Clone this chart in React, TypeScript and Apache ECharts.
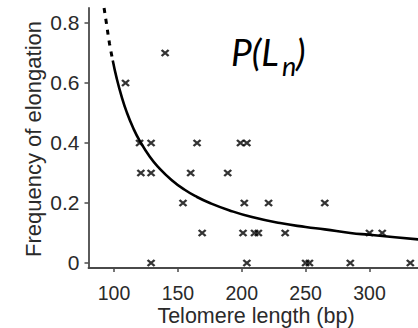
import React, { useEffect, useRef } from 'react';
import * as echarts from 'echarts';

// Observed data points (telomere length in bp, frequency of elongation)
const scatterLength = [
  109, 140,
  120, 129, 165, 199, 204,
  121, 129, 160, 189,
  154, 202, 221, 265,
  169, 201, 210, 213, 234, 300, 310,
  129, 204, 250, 253, 285, 332,
];
const scatterFreq = [
  0.6, 0.7,
  0.4, 0.4, 0.4, 0.4, 0.4,
  0.3, 0.3, 0.3, 0.3,
  0.2, 0.2, 0.2, 0.2,
  0.1, 0.1, 0.1, 0.1, 0.1, 0.1, 0.1,
  0, 0, 0, 0, 0, 0,
];

// Fitted curve P(L_n) (dashed extrapolation + solid part)
const fitDashedLength = [92.2, 94, 96.5, 99];
const fitDashedFreq = [0.85, 0.8, 0.73, 0.675];
const fitLength = [99, 102, 106, 110, 115, 120, 128, 135, 145, 155, 165, 175, 190, 208, 230, 250, 265, 285, 300, 320, 340];
const fitFreq = [0.675, 0.617, 0.554, 0.502, 0.45, 0.408, 0.354, 0.318, 0.277, 0.245, 0.22, 0.2, 0.176, 0.153, 0.133, 0.12, 0.112, 0.1, 0.094, 0.086, 0.078];

const xTickValues = [100, 150, 200, 250, 300];
const yTickValues = [0, 0.2, 0.4, 0.6, 0.8];

const xTitle = 'Telomere length (bp)';
const yTitle = 'Frequency of elongation';
const titleMain = 'P(L';
const titleSub = 'n';
const titleEnd = ')';

const AXIS_FONT = '"Liberation Sans", Arial, sans-serif';
const TITLE_FONT = 'Lato, "Open Sans", sans-serif';

export default function App() {
  const ref = useRef<HTMLDivElement>(null);

  useEffect(() => {
    if (!ref.current) return;
    const chart = echarts.init(ref.current, undefined, { renderer: 'svg' });

    const zip = (a: number[], b: number[]) => a.map((v, i) => [v, b[i]]);
    const axisColor = '#4a4a4a';
    const textColor = '#2a2a2a';

    chart.setOption({
      animation: false,
      backgroundColor: '#ffffff',
      grid: {
        left: 88.5,
        right: 0,
        top: 8,
        bottom: 60,
        outerBoundsMode: 'none',
        containLabel: false,
      },
      xAxis: {
        type: 'value',
        min: 80,
        max: 338,
        splitLine: { show: false },
        axisLine: { show: true, onZero: false, lineStyle: { color: axisColor, width: 1.8 } },
        axisTick: { show: true, length: 4, customValues: xTickValues, lineStyle: { color: axisColor, width: 1.5 } },
        axisLabel: {
          customValues: xTickValues,
          margin: 16.7,
          fontSize: 19.5,
          lineHeight: 16,
          fontFamily: AXIS_FONT,
          color: textColor,
        },
      },
      yAxis: {
        type: 'value',
        min: -0.0167,
        max: 0.85,
        splitLine: { show: false },
        axisLine: { show: true, onZero: false, lineStyle: { color: axisColor, width: 1.8 } },
        axisTick: { show: true, length: 4, customValues: yTickValues, lineStyle: { color: axisColor, width: 1.5 } },
        axisLabel: {
          customValues: yTickValues,
          margin: 9,
          fontSize: 21,
          lineHeight: 16,
          fontFamily: AXIS_FONT,
          color: textColor,
          padding: [4, 0, 0, 0],
          formatter: (v: number) => (v === 0 ? '0' : v.toFixed(1)),
        },
      },
      graphic: [
        {
          type: 'text',
          x: 33,
          y: 139,
          rotation: Math.PI / 2,
          style: {
            text: yTitle,
            font: `22px ${AXIS_FONT}`,
            lineHeight: 17,
            fill: textColor,
            align: 'center',
            verticalAlign: 'middle',
          },
        },
        {
          type: 'text',
          x: 256,
          y: 316,
          style: {
            text: xTitle,
            font: `21.5px ${AXIS_FONT}`,
            lineHeight: 17,
            fill: textColor,
            align: 'center',
            verticalAlign: 'middle',
          },
        },
        {
          type: 'text',
          x: 231,
          y: 51,
          style: {
            text: titleMain,
            font: `italic 37px ${TITLE_FONT}`,
            fill: '#000',
            align: 'left',
            verticalAlign: 'middle',
          },
        },
        {
          type: 'text',
          x: 282,
          y: 65,
          style: {
            text: titleSub,
            font: `italic 27px ${TITLE_FONT}`,
            fill: '#000',
            align: 'left',
            verticalAlign: 'middle',
          },
        },
        {
          type: 'text',
          x: 296,
          y: 51,
          style: {
            text: titleEnd,
            font: `italic 37px ${TITLE_FONT}`,
            fill: '#000',
            align: 'left',
            verticalAlign: 'middle',
          },
        },
      ],
      series: [
        {
          type: 'line',
          data: zip(fitDashedLength, fitDashedFreq),
          smooth: true,
          showSymbol: false,
          symbol: 'none',
          lineStyle: { color: '#000', width: 3, type: [5, 6] },
          z: 3,
        },
        {
          type: 'line',
          data: zip(fitLength, fitFreq),
          smooth: true,
          showSymbol: false,
          symbol: 'none',
          lineStyle: { color: '#000', width: 2.6 },
          z: 3,
        },
        {
          type: 'scatter',
          data: zip(scatterLength, scatterFreq),
          symbol: 'path://M0,0L8,7M8,0L0,7',
          symbolSize: [7, 6],
          itemStyle: { color: 'none', borderColor: '#000', borderWidth: 2.2 },
          z: 4,
        },
      ],
    });

    return () => chart.dispose();
  }, []);

  return (
    <div
      ref={ref}
      style={{ position: 'fixed', left: 0, top: 0, width: 418, height: 328, background: '#fff' }}
    />
  );
}
